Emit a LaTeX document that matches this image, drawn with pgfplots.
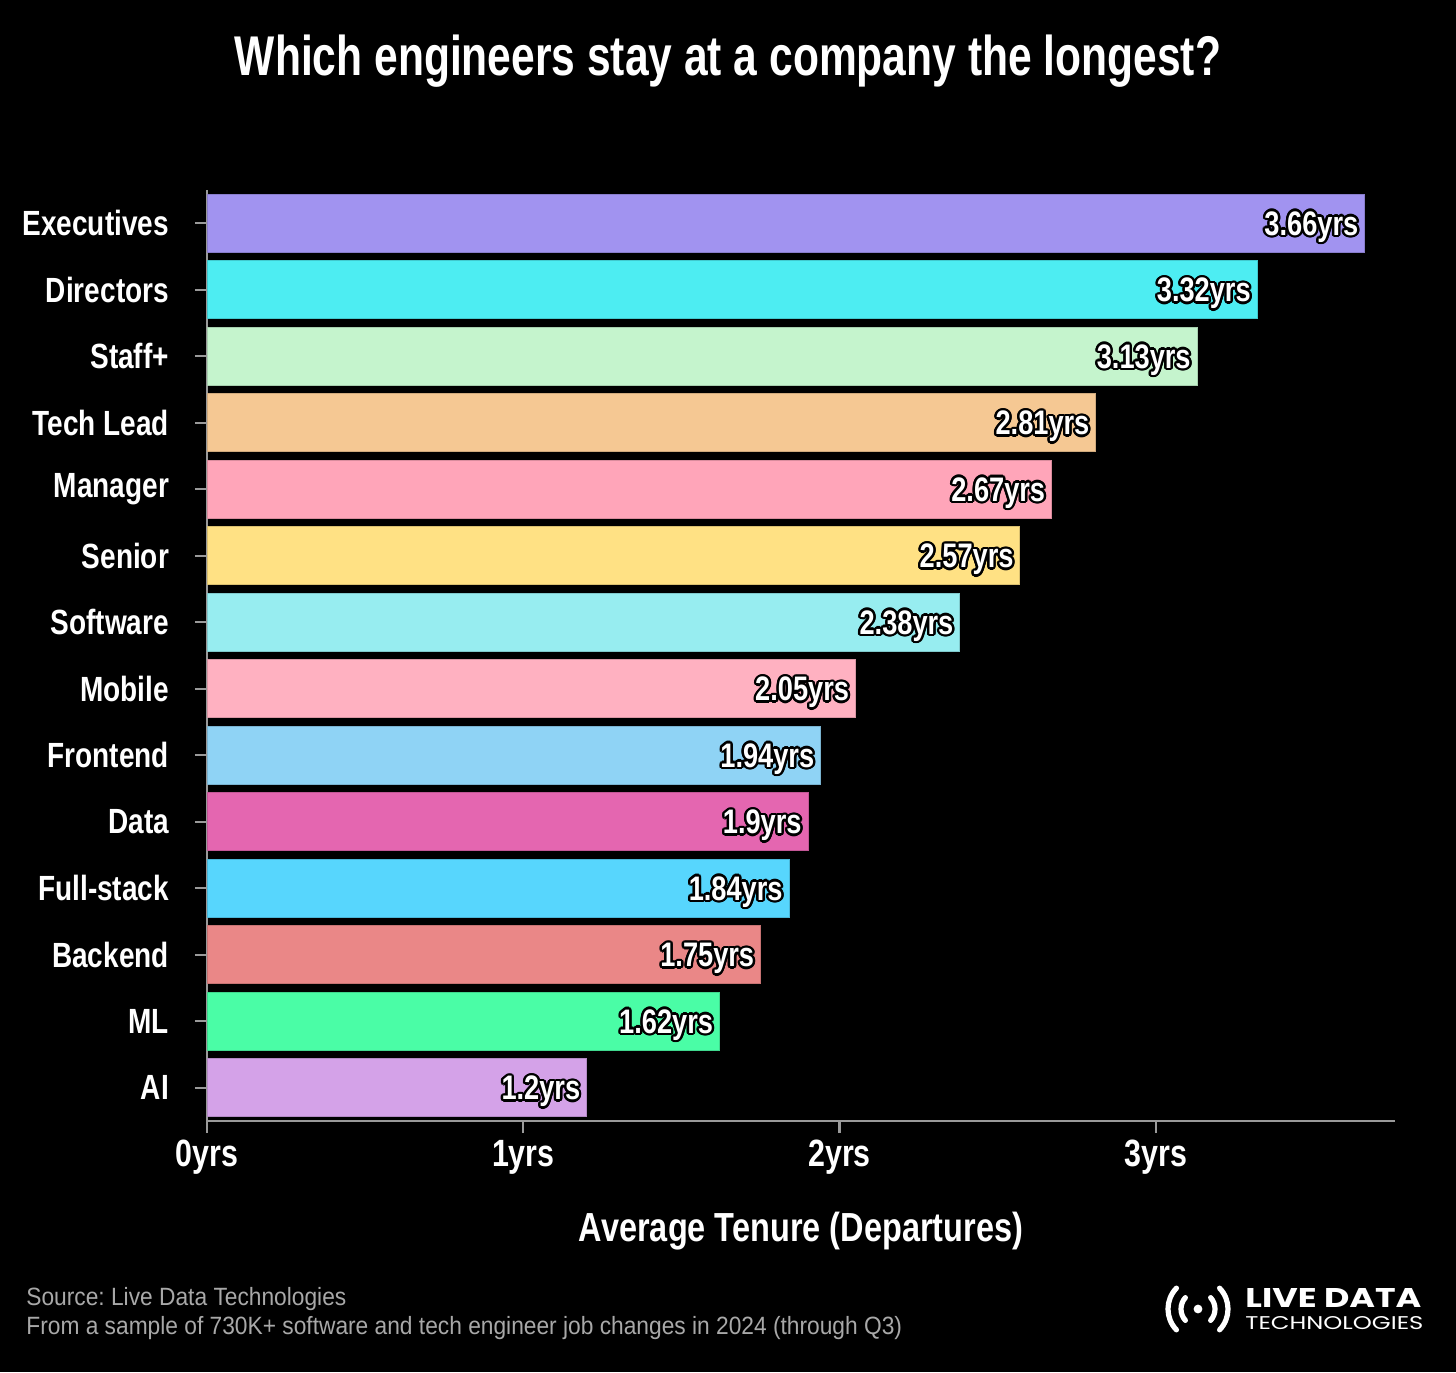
\documentclass[border=0pt]{standalone}
\usepackage{fontspec}
\usepackage{pgfplots}
\pgfplotsset{compat=1.18}
\usepackage{contour}
\usepackage{graphicx}
\setmainfont{Liberation Sans}[FakeStretch=0.80]
\newfontfamily\titlefont{Liberation Sans}[FakeStretch=0.76]
\newfontfamily\footfont{Liberation Sans}[FakeStretch=0.91]
\newfontfamily\logofont{Poppins}
\contourlength{1.2pt}

\definecolor{cExec}{HTML}{A193F0}
\definecolor{cDir}{HTML}{4DEDF2}
\definecolor{cStaff}{HTML}{C5F4CD}
\definecolor{cLead}{HTML}{F5C893}
\definecolor{cMan}{HTML}{FFA5B9}
\definecolor{cSen}{HTML}{FFE184}
\definecolor{cSoft}{HTML}{97EDF0}
\definecolor{cMob}{HTML}{FFB1C1}
\definecolor{cFront}{HTML}{8FD3F5}
\definecolor{cData}{HTML}{E466B0}
\definecolor{cFull}{HTML}{57D6FD}
\definecolor{cBack}{HTML}{EA8787}
\definecolor{cML}{HTML}{4AFDA6}
\definecolor{cAI}{HTML}{D4A2E8}
\definecolor{axisgray}{HTML}{9A9A9A}
\definecolor{footgray}{HTML}{A8A8A8}

\begin{document}
\frenchspacing
\begin{tikzpicture}
	% background, one picture pixel = 0.5pt, axis corner at pixel (207,1121)
	\fill[black] (-103.5pt,-125.5pt) rectangle (624.5pt,560.5pt);
	\path[use as bounding box] (-103.5pt,-125.5pt) rectangle (624.5pt,560.5pt);

	\node[text=white, font=\titlefont\bfseries\fontsize{28}{30}\selectfont] at (260.5pt,530pt)
		{Which engineers stay at a company the longest?};

	\begin{axis}[
		at={(0,0)}, anchor=south west,
		scale only axis,
		width=594pt, height=465.5pt,
		xbar, bar width=29pt, bar shift=0pt,
		xmin=0, xmax=3.756,
		ymin=-0.5, ymax=13.5,
		axis x line*=bottom, axis y line*=left,
		axis line style={-, draw=axisgray, line width=1.2pt},
		tick style={draw=axisgray, line width=1.2pt},
		tick align=outside,
		major tick length=6pt,
		xtick={0,1,2,3},
		xticklabels={0yrs,1yrs,2yrs,3yrs},
		ytick={0,...,13},
		yticklabels={AI,ML,Backend,Full-stack,Data,Frontend,Mobile,Software,Senior,Manager,Tech Lead,Staff+,Directors,Executives},
		xticklabel style={text=white, font=\bfseries\fontsize{19}{20}\selectfont, inner sep=2pt, yshift=-1.5pt},
		yticklabel style={text=white, font=\bfseries\fontsize{17.5}{18}\selectfont, xshift=-9.5pt},
		xlabel={Average Tenure (Departures)},
		every axis x label/.style={at={(axis description cs:0.5,0)}, anchor=center, yshift=-55pt,
			text=white, font=\bfseries\fontsize{20.3}{21}\selectfont},
		/pgf/number format/assume math mode=true,
		nodes near coords={\contour{black}{\pgfmathprintnumber{\pgfplotspointmeta}yrs}},
		every node near coord/.append style={anchor=base east, inner sep=3pt, yshift=-6pt, text=white,
			font=\bfseries\fontsize{17}{18}\selectfont},
	]
		\addplot[fill=cExec, draw=cExec!85!black] coordinates {(3.66,13)};
		\addplot[fill=cDir, draw=cDir!85!black] coordinates {(3.32,12)};
		\addplot[fill=cStaff, draw=cStaff!85!black] coordinates {(3.13,11)};
		\addplot[fill=cLead, draw=cLead!85!black] coordinates {(2.81,10)};
		\addplot[fill=cMan, draw=cMan!85!black] coordinates {(2.67,9)};
		\addplot[fill=cSen, draw=cSen!85!black] coordinates {(2.57,8)};
		\addplot[fill=cSoft, draw=cSoft!85!black] coordinates {(2.38,7)};
		\addplot[fill=cMob, draw=cMob!85!black] coordinates {(2.05,6)};
		\addplot[fill=cFront, draw=cFront!85!black] coordinates {(1.94,5)};
		\addplot[fill=cData, draw=cData!85!black] coordinates {(1.9,4)};
		\addplot[fill=cFull, draw=cFull!85!black] coordinates {(1.84,3)};
		\addplot[fill=cBack, draw=cBack!85!black] coordinates {(1.75,2)};
		\addplot[fill=cML, draw=cML!85!black] coordinates {(1.62,1)};
		\addplot[fill=cAI, draw=cAI!85!black] coordinates {(1.2,0)};
	\end{axis}

	% footer
	\node[anchor=west, text=footgray, font=\footfont\fontsize{12.5}{13}\selectfont, inner sep=0pt] at (-90.5pt,-89pt)
		{Source: Live Data Technologies};
	\node[anchor=west, text=footgray, font=\footfont\fontsize{12.5}{13}\selectfont, inner sep=0pt] at (-90.5pt,-103.5pt)
		{From a sample of 730K+ software and tech engineer job changes in 2024 (through Q3)};

	% logo
	\fill[white] (495.5pt,-94pt) circle (2.2pt);
	\begin{scope}[white, line width=2.6pt, line cap=round]
		\draw ([shift={(-42:8.5pt)}]495.5pt,-94pt) arc (-42:42:8.5pt);
		\draw ([shift={(138:8.5pt)}]495.5pt,-94pt) arc (138:222:8.5pt);
		\draw ([shift={(-44:15pt)}]495.5pt,-94pt) arc (-44:44:15pt);
		\draw ([shift={(136:15pt)}]495.5pt,-94pt) arc (136:224:15pt);
	\end{scope}
	\node[anchor=west, text=white, inner sep=0pt] at (519pt,-88.25pt)
		{\resizebox{88pt}{9.5pt}{\logofont\bfseries LIVE DATA}};
	\node[anchor=west, text=white, inner sep=0pt] at (519pt,-101.25pt)
		{\resizebox{89pt}{6.5pt}{\logofont TECHNOLOGIES}};
\end{tikzpicture}
\end{document}
